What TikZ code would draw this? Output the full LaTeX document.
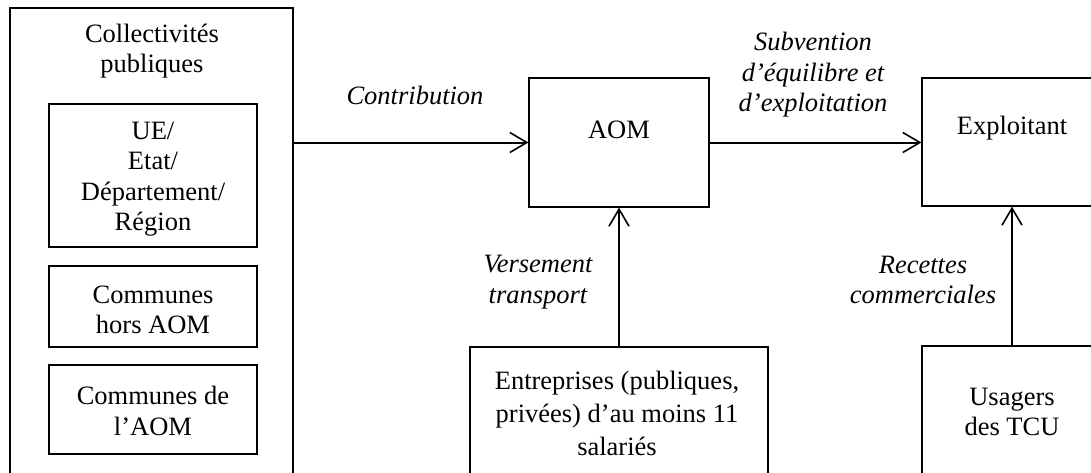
\documentclass[tikz,border=0pt]{standalone}
\usepackage{fontspec}
\setmainfont{Liberation Serif}
\usetikzlibrary{arrows.meta}
\begin{document}
\begin{tikzpicture}[x=1pt,y=-1pt,
  box/.style={draw, line width=1.2pt, rectangle, inner sep=0pt},
  txt/.style={align=center, font=\fontsize{26.5}{30.5}\selectfont, inner sep=0pt},
  lbl/.style={align=center, font=\fontsize{26.5}{30.5}\selectfont\itshape, inner sep=0pt},
  flow/.style={line width=2pt, -{Straight Barb[length=17pt,width=20pt,line width=1.6pt]}}]
\useasboundingbox (0,0) rectangle (1091,472);
\clip (0,0) rectangle (1091,472);
\fill[white] (0,0) rectangle (1091,472);
% left big box
\node[box, minimum width=283pt, minimum height=552pt] (coll) at (151.5,284) {};
\node[txt] (colltitle) at (152,51) {Collectivités\\publiques};
\node[box, minimum width=208pt, minimum height=143pt] (ue) at (153,175.5) {};
\node[txt] (uetxt) at (153,179) {UE/\\Etat/\\Département/\\Région};
\node[box, minimum width=208pt, minimum height=81pt] (chors) at (153,306.5) {};
\node[txt] (chorstxt) at (153,310) {Communes\\hors AOM};
\node[box, minimum width=208pt, minimum height=89pt] (caom) at (153,409.5) {};
\node[txt] (caomtxt) at (153,411) {Communes de\\l’AOM};
% AOM
\node[box, minimum width=180pt, minimum height=129pt] (aom) at (619,142.5) {};
\node[txt] (aomtxt) at (619,130) {AOM};
% Exploitant
\node[box, minimum width=180pt, minimum height=128pt] (expl) at (1012,142) {};
\node[txt] (expltxt) at (1012,128) {Exploitant};
% Entreprises
\node[box, minimum width=298pt, minimum height=300pt] (ent) at (619,497) {};
\node[txt, font=\fontsize{26.5}{33}\selectfont] (enttxt) at (617,413) {Entreprises (publiques,\\privées) d’au moins 11\\salariés};
% Usagers
\node[box, minimum width=180pt, minimum height=300pt] (usa) at (1012,496) {};
\node[txt] (usatxt) at (1012,412) {Usagers\\des TCU};
% labels
\node[lbl] (lcontrib) at (415,95) {Contribution};
\node[lbl] (lsub) at (813,75) {Subvention\\d’équilibre et\\d’exploitation};
\node[lbl] (lvers) at (538,282) {Versement\\transport};
\node[lbl] (lrec) at (923,280) {Recettes\\commerciales};
% connectors
\draw[flow] (coll.east |- aom.west) -- (aom.west);
\draw[flow] (aom.east) -- (expl.west |- aom.east);
\draw[flow] (ent.north) -- (aom.south);
\draw[flow] (usa.north) -- (expl.south);
\end{tikzpicture}
\end{document}
